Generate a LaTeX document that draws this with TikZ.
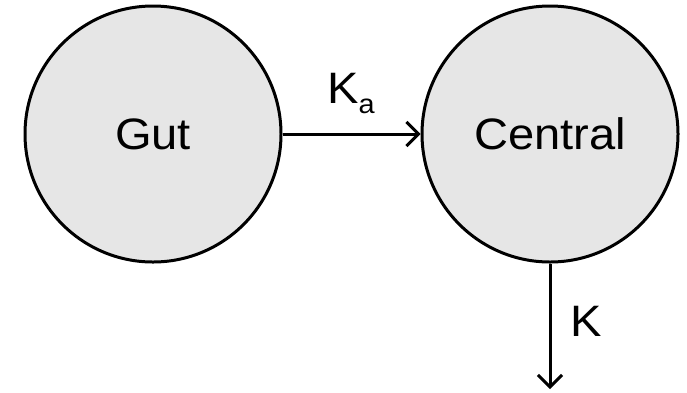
\documentclass[tikz,border=0pt]{standalone}
\usepackage{fontspec}
\setmainfont{Liberation Sans}[FakeStretch=1.07]
\usetikzlibrary{arrows.meta}
\definecolor{compfill}{RGB}{230,230,230}
\tikzset{
  comp/.style={circle, draw=black, fill=compfill, line width=3pt, minimum size=256pt, inner sep=0pt, font=\fontsize{44}{50}\selectfont},
  flow/.style={line width=3pt, -{Straight Barb[length=12pt, width=24pt, line width=3pt]}},
  lbl/.style={inner sep=0pt, font=\fontsize{44}{50}\selectfont}
}
\begin{document}
\begin{tikzpicture}[x=1pt, y=-1pt]
\useasboundingbox (0,0) rectangle (687,392);
\node[comp] (gut) at (153,134) {Gut};
\node[comp] (central) at (550,134) {Central};
\coordinate (out) at (550,389);
\draw[flow] (gut) -- (central);
\draw[flow] (central) -- (out);
\node[lbl, anchor=base west] (ka) at (327,103) {K\raisebox{-10pt}{\fontsize{27}{30}\selectfont a}};
\node[lbl, anchor=base west] (k) at (570,336) {K};
\end{tikzpicture}
\end{document}
